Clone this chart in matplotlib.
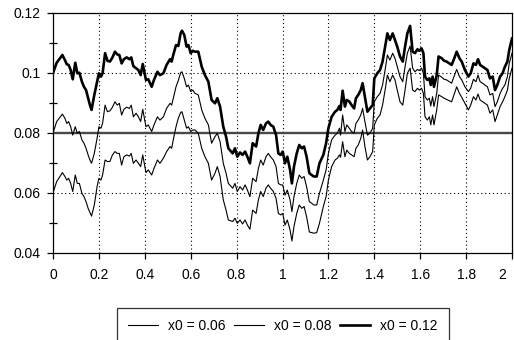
import matplotlib
matplotlib.use('Agg')
import matplotlib.pyplot as plt
import matplotlib.transforms as mtransforms
from matplotlib.ticker import MultipleLocator
import numpy as np

plt.rcParams['font.family'] = ['Liberation Sans', 'DejaVu Sans']

# time grid
t = [0.0, 0.016, 0.041, 0.052, 0.060, 0.068, 0.077, 0.086, 0.097, 0.106, 0.115, 0.126, 0.135, 0.144, 0.153, 0.161, 0.168, 0.180, 0.192, 0.200,
     0.209, 0.216, 0.227, 0.237, 0.248, 0.259, 0.270, 0.280, 0.289, 0.299, 0.309, 0.321, 0.333, 0.341, 0.350, 0.362, 0.372, 0.382, 0.391,
     0.405, 0.415, 0.430, 0.440, 0.455, 0.466, 0.481, 0.495, 0.510, 0.517, 0.524, 0.536, 0.546, 0.556, 0.562, 0.572, 0.582, 0.590, 0.600, 0.609,
     0.619, 0.633, 0.648, 0.662, 0.677, 0.691, 0.706, 0.716, 0.728, 0.742, 0.754, 0.764,
     0.783, 0.793, 0.803, 0.815, 0.826, 0.837, 0.847, 0.858, 0.870, 0.885, 0.895, 0.905, 0.916, 0.928, 0.938, 0.948, 0.960, 0.972, 0.982, 0.992,
     1.001, 1.011, 1.021, 1.033, 1.041, 1.050, 1.062, 1.073, 1.084, 1.094, 1.105, 1.117, 1.127, 1.137, 1.149, 1.161,
     1.178, 1.190, 1.200, 1.214, 1.229, 1.239, 1.248, 1.253, 1.262, 1.272, 1.280, 1.291, 1.301, 1.312, 1.320, 1.330, 1.341, 1.349, 1.359, 1.370,
     1.381, 1.393, 1.400, 1.413, 1.425, 1.436, 1.447, 1.457, 1.468, 1.480, 1.490, 1.500, 1.512, 1.524, 1.534, 1.544, 1.556,
     1.567, 1.577, 1.588, 1.596, 1.606, 1.614, 1.621, 1.631, 1.640, 1.646, 1.654, 1.660, 1.672, 1.680, 1.694, 1.704, 1.715, 1.727, 1.737, 1.747,
     1.759, 1.771, 1.781, 1.795, 1.810, 1.820, 1.832, 1.843, 1.852, 1.861, 1.872, 1.882, 1.893, 1.904, 1.916, 1.926, 1.936, 1.948, 1.959, 1.969,
     1.980, 1.988, 2.000]

x0_012 = [0.1000, 0.1034, 0.1060, 0.1043, 0.1029, 0.1027, 0.1010, 0.0979, 0.1034, 0.0999, 0.1001, 0.0971, 0.0954, 0.0943, 0.0916, 0.0893, 0.0877, 0.0927, 0.0971, 0.0999,
          0.0988, 0.0999, 0.1066, 0.1041, 0.1038, 0.1052, 0.1071, 0.1062, 0.1060, 0.1032, 0.1046, 0.1052, 0.1046, 0.1052, 0.1023, 0.1016, 0.1010, 0.0993, 0.1030,
          0.0977, 0.0979, 0.0954, 0.0977, 0.1004, 0.0993, 0.0999, 0.1027, 0.1046, 0.1038, 0.1060, 0.1093, 0.1090, 0.1132, 0.1141, 0.1127, 0.1088, 0.1093, 0.1066, 0.1074,
          0.1071, 0.1071, 0.1021, 0.0993, 0.0971, 0.0910, 0.0899, 0.0916, 0.0888, 0.0821, 0.0788, 0.0749,
          0.0732, 0.0749, 0.0721, 0.0735, 0.0727, 0.0738, 0.0721, 0.0699, 0.0766, 0.0755, 0.0799, 0.0827, 0.0810, 0.0832, 0.0838, 0.0827, 0.0821, 0.0793, 0.0732, 0.0727,
          0.0738, 0.0699, 0.0721, 0.0677, 0.0632, 0.0688, 0.0732, 0.0760, 0.0749, 0.0755, 0.0721, 0.0666, 0.0660, 0.0655, 0.0655, 0.0699,
          0.0727, 0.0766, 0.0816, 0.0854, 0.0871, 0.0877, 0.0890, 0.0877, 0.0941, 0.0888, 0.0910, 0.0905, 0.0893, 0.0882, 0.0916, 0.0927, 0.0943, 0.0966, 0.0921, 0.0871,
          0.0882, 0.0893, 0.0982, 0.0999, 0.1010, 0.1038, 0.1088, 0.1132, 0.1110, 0.1132, 0.1110, 0.1088, 0.1055, 0.1038, 0.1088, 0.1132, 0.1157,
          0.1071, 0.1066, 0.1079, 0.1074, 0.1082, 0.1066, 0.0988, 0.0977, 0.0982, 0.0960, 0.0988, 0.0954, 0.0993, 0.1055, 0.1049, 0.1041, 0.1038, 0.1032, 0.1027, 0.1046,
          0.1071, 0.1049, 0.1038, 0.1010, 0.0988, 0.0999, 0.1032, 0.1027, 0.1046, 0.1027, 0.1021, 0.1016, 0.1010, 0.0982, 0.0988, 0.0943, 0.0960, 0.0988, 0.0999, 0.1021,
          0.1038, 0.1077, 0.1115]

x0_008 = [0.0800, 0.0838, 0.0863, 0.0849, 0.0832, 0.0838, 0.0821, 0.0793, 0.0821, 0.0799, 0.0805, 0.0777, 0.0766, 0.0749, 0.0727, 0.0710, 0.0699, 0.0732, 0.0782, 0.0821,
          0.0816, 0.0832, 0.0893, 0.0871, 0.0874, 0.0886, 0.0904, 0.0893, 0.0899, 0.0860, 0.0879, 0.0886, 0.0882, 0.0893, 0.0854, 0.0866, 0.0854, 0.0838, 0.0879,
          0.0821, 0.0827, 0.0805, 0.0827, 0.0854, 0.0843, 0.0854, 0.0882, 0.0899, 0.0893, 0.0916, 0.0954, 0.0975, 0.1001, 0.1004, 0.0982, 0.0954, 0.0960, 0.0938, 0.0943,
          0.0932, 0.0927, 0.0877, 0.0849, 0.0827, 0.0766, 0.0788, 0.0799, 0.0771, 0.0699, 0.0666, 0.0632,
          0.0616, 0.0632, 0.0605, 0.0621, 0.0610, 0.0627, 0.0610, 0.0588, 0.0649, 0.0638, 0.0682, 0.0710, 0.0693, 0.0721, 0.0732, 0.0721, 0.0710, 0.0688, 0.0632, 0.0627,
          0.0627, 0.0593, 0.0610, 0.0577, 0.0538, 0.0588, 0.0632, 0.0660, 0.0649, 0.0655, 0.0621, 0.0571, 0.0566, 0.0560, 0.0560, 0.0599,
          0.0643, 0.0677, 0.0732, 0.0777, 0.0793, 0.0799, 0.0816, 0.0793, 0.0860, 0.0805, 0.0827, 0.0816, 0.0805, 0.0799, 0.0832, 0.0843, 0.0860, 0.0882, 0.0838, 0.0793,
          0.0799, 0.0816, 0.0904, 0.0921, 0.0932, 0.0960, 0.1010, 0.1060, 0.1043, 0.1066, 0.1049, 0.1021, 0.0988, 0.0971, 0.1021, 0.1066, 0.1090,
          0.1016, 0.1004, 0.1012, 0.1008, 0.1016, 0.0999, 0.0921, 0.0910, 0.0916, 0.0890, 0.0921, 0.0888, 0.0932, 0.0993, 0.0986, 0.0979, 0.0977, 0.0971, 0.0966, 0.0988,
          0.1012, 0.0988, 0.0977, 0.0954, 0.0938, 0.0949, 0.0979, 0.0971, 0.0993, 0.0971, 0.0966, 0.0960, 0.0954, 0.0927, 0.0932, 0.0888, 0.0904, 0.0932, 0.0949, 0.0960,
          0.0988, 0.1032, 0.1066]

x0_006 = [0.0600, 0.0638, 0.0668, 0.0655, 0.0643, 0.0649, 0.0632, 0.0605, 0.0660, 0.0632, 0.0632, 0.0599, 0.0588, 0.0571, 0.0549, 0.0535, 0.0523, 0.0560, 0.0621, 0.0649,
          0.0643, 0.0660, 0.0710, 0.0705, 0.0705, 0.0727, 0.0738, 0.0732, 0.0732, 0.0693, 0.0721, 0.0727, 0.0723, 0.0732, 0.0699, 0.0710, 0.0699, 0.0688, 0.0727,
          0.0668, 0.0677, 0.0660, 0.0682, 0.0710, 0.0699, 0.0716, 0.0738, 0.0755, 0.0749, 0.0777, 0.0821, 0.0849, 0.0868, 0.0871, 0.0843, 0.0816, 0.0821, 0.0805, 0.0810,
          0.0810, 0.0799, 0.0749, 0.0721, 0.0699, 0.0643, 0.0666, 0.0688, 0.0655, 0.0577, 0.0543, 0.0510,
          0.0505, 0.0516, 0.0499, 0.0510, 0.0497, 0.0510, 0.0493, 0.0479, 0.0543, 0.0532, 0.0577, 0.0605, 0.0588, 0.0616, 0.0627, 0.0616, 0.0605, 0.0582, 0.0532, 0.0527,
          0.0532, 0.0493, 0.0510, 0.0477, 0.0440, 0.0488, 0.0532, 0.0560, 0.0549, 0.0555, 0.0521, 0.0470, 0.0468, 0.0466, 0.0468, 0.0499,
          0.0555, 0.0588, 0.0643, 0.0688, 0.0710, 0.0716, 0.0727, 0.0719, 0.0771, 0.0721, 0.0743, 0.0732, 0.0727, 0.0721, 0.0749, 0.0760, 0.0782, 0.0810, 0.0755, 0.0710,
          0.0721, 0.0738, 0.0827, 0.0849, 0.0860, 0.0893, 0.0943, 0.0993, 0.0971, 0.0993, 0.0977, 0.0943, 0.0904, 0.0893, 0.0943, 0.0999, 0.1016,
          0.0943, 0.0938, 0.0949, 0.0943, 0.0949, 0.0932, 0.0854, 0.0843, 0.0854, 0.0827, 0.0860, 0.0827, 0.0877, 0.0927, 0.0921, 0.0916, 0.0912, 0.0908, 0.0904, 0.0927,
          0.0954, 0.0932, 0.0919, 0.0899, 0.0877, 0.0893, 0.0921, 0.0910, 0.0930, 0.0910, 0.0904, 0.0899, 0.0893, 0.0866, 0.0877, 0.0838, 0.0860, 0.0888, 0.0904, 0.0921,
          0.0943, 0.0982, 0.1016]

mean_level = 0.08
labels = ['x0 = 0.06', 'x0 = 0.08', 'x0 = 0.12']
xtick_labels = ['0', '0.2', '0.4', '0.6', '0.8', '1', '1.2', '1.4', '1.6', '1.8', '2']
ytick_labels = ['0.04', '0.06', '0.08', '0.1', '0.12']

fig = plt.figure(figsize=(5.14, 3.40), dpi=100)
ax = fig.add_axes([53 / 514, 1 - 253 / 340, 459 / 514, 240 / 340])

# dotted grid, solid line at the mean level
for gx in np.arange(0.2, 2.0, 0.2):
    ax.axvline(gx, color='black', linestyle=(0, (1, 2.5)), linewidth=0.8, zorder=1)
for gy in [0.06, 0.10]:
    ax.axhline(gy, color='black', linestyle=(0, (1, 2.5)), linewidth=0.8, zorder=1)
ax.axhline(mean_level, color='#484848', linewidth=1.7, zorder=2)

l1, = ax.plot(t, x0_006, color='black', linewidth=0.8, zorder=3)
l2, = ax.plot(t, x0_008, color='black', linewidth=0.8, zorder=3)
l3, = ax.plot(t, x0_012, color='black', linewidth=1.9, zorder=4)

ax.set_xlim(0, 2)
ax.set_ylim(0.04, 0.12)
ax.set_xticks(np.arange(0, 2.01, 0.2))
ax.set_xticklabels(xtick_labels)
ax.set_yticks([0.04, 0.06, 0.08, 0.1, 0.12])
ax.set_yticklabels(ytick_labels)
ax.yaxis.set_minor_locator(MultipleLocator(0.01))
ax.tick_params(axis='both', which='major', direction='out', length=4, width=0.9, labelsize=10)
ax.tick_params(axis='x', which='major', pad=7)
ax.tick_params(axis='y', which='major', pad=5)
ax.tick_params(axis='y', which='minor', direction='inout', length=6, width=0.9)
for s in ax.spines.values():
    s.set_linewidth(0.9)

# last x label pulled inside the figure, as in the original
last = ax.get_xticklabels()[-1]
last.set_ha('right')
last.set_transform(last.get_transform() + mtransforms.ScaledTranslation(-4 / 72, 0, fig.dpi_scale_trans))

leg = ax.legend([l1, l2, l3], labels, loc='upper center', bbox_to_anchor=(0.55, 1 - 308 / 340),
                bbox_transform=fig.transFigure, ncol=3, fontsize=10, frameon=True, fancybox=False,
                edgecolor='black', handlelength=2.2, handletextpad=0.7, columnspacing=0.6,
                borderpad=0.8, borderaxespad=0)
leg.get_frame().set_linewidth(0.9)

plt.savefig('out.png', dpi=100)
plt.close()
